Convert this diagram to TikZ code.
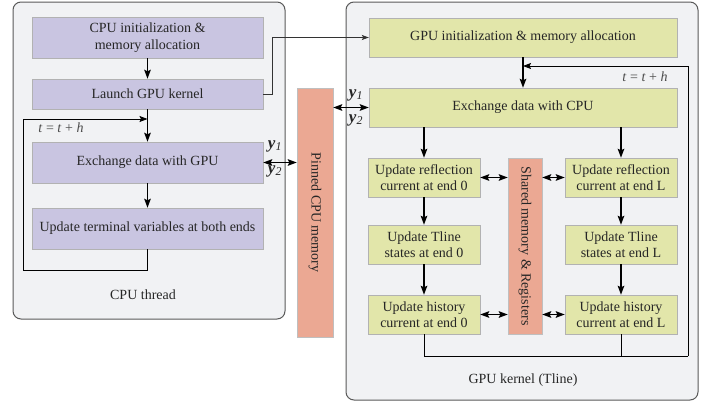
\documentclass[tikz,border=0pt]{standalone}
\usepackage{fontspec}
\setmainfont{Liberation Serif}
\usetikzlibrary{arrows.meta}

\definecolor{panelgray}{HTML}{F1F2F4}
\definecolor{cpupurple}{HTML}{C9C5E1}
\definecolor{gpugreen}{HTML}{E2E6AA}
\definecolor{memsalmon}{HTML}{EBA893}

\begin{document}
\begin{tikzpicture}[
    x=1pt, y=-1pt,
    every node/.style={font=\fontsize{14}{16.5}\selectfont, text=black!85},
    panel/.style={draw=black!65, line width=1pt, fill=panelgray, rounded corners=8pt},
    cpubox/.style={draw=black!30, fill=cpupurple, minimum width=231pt, align=center, inner sep=0pt},
    gpubox/.style={draw=black!30, fill=gpugreen, align=center, inner sep=0pt},
    membox/.style={draw=black!25, fill=memsalmon, inner sep=0pt},
    arr/.style={-{Stealth[length=9pt,width=6.5pt,inset=1.5pt]}, line width=1.8pt},
    dbl/.style={{Stealth[length=9pt,width=6.5pt,inset=1.5pt]}-{Stealth[length=9pt,width=6.5pt,inset=1.5pt]}, line width=1.8pt},
    loopline/.style={line width=0.9pt},
    steplbl/.style={text=black!70},
    ylbl/.style={inner sep=0pt, font=\fontsize{17}{18}\selectfont}
]
\useasboundingbox (0,0) rectangle (713,407);

% panels
\node[panel, minimum width=272pt, minimum height=317pt] (cpupanel) at (149,160.5) {};
\node[panel, minimum width=352pt, minimum height=398pt] (gpupanel) at (522,201) {};
\node (cputitle) at (143,295) {CPU thread};
\node (gputitle) at (523,380) {GPU kernel (Tline)};

% CPU thread
\node[cpubox, minimum height=41pt] (cinit) at (147.5,37.5) {CPU initialization \&\\memory allocation};
\node[cpubox, minimum height=30pt] (launch) at (147.5,94) {Launch GPU kernel};
\node[cpubox, minimum height=41pt] (cex) at (147.5,162.5) {Exchange data with GPU};
\node[cpubox, minimum height=41pt] (cupd) at (147.5,228.5) {Update terminal variables at both ends};

% pinned memory
\node[membox, minimum width=36pt, minimum height=249pt] (pinned) at (315,212.5) {\rotatebox{-90}{Pinned CPU memory}};

% GPU kernel
\node[gpubox, minimum width=308pt, minimum height=39pt] (ginit) at (523,37.5) {GPU initialization \& memory allocation};
\node[gpubox, minimum width=308pt, minimum height=39pt] (gex) at (523,107.5) {Exchange data with CPU};
\node[gpubox, minimum width=112pt, minimum height=39pt] (r0) at (424,177.5) {Update reflection\\current at end 0};
\node[gpubox, minimum width=112pt, minimum height=39pt] (rL) at (621,177.5) {Update reflection\\current at end L};
\node[gpubox, minimum width=112pt, minimum height=39pt] (s0) at (424,244.5) {Update Tline\\states at end 0};
\node[gpubox, minimum width=112pt, minimum height=39pt] (sL) at (621,244.5) {Update Tline\\states at end L};
\node[gpubox, minimum width=112pt, minimum height=39pt] (h0) at (424,314.5) {Update history\\current at end 0};
\node[gpubox, minimum width=112pt, minimum height=39pt] (hL) at (621,314.5) {Update history\\current at end L};
\node[membox, minimum width=34pt, minimum height=176pt] (shared) at (525,246) {\rotatebox{-90}{Shared memory \& Registers}};

% CPU flow
\draw[arr] (cinit) -- (launch);
\draw[arr] (launch) -- (cex);
\draw[arr] (cex) -- (cupd);
\coordinate (cloop) at (23,270);
\coordinate (cjoin) at (147.5,119);
\draw[loopline, -{Stealth[length=8pt,width=6pt,inset=1.5pt]}] (cupd.south) |- (cloop) |- (cjoin);
\node[steplbl] (cstep) at (61,128) {\textit{t} = \textit{t} + \textit{h}};

% launch kernel
\coordinate (kturn) at (272,37.5);
\draw[loopline, black!80, -{Stealth[length=7pt,width=5pt,inset=1.5pt]}] (launch.east) -| (kturn) -- (ginit.west);

% data exchange through pinned memory
\draw[dbl] (cex.east) -- (cex.east -| pinned.west);
\node[ylbl] (cy1) at (275,146) {\textbf{\textit{y}}\textsubscript{\textit{1}}};
\node[ylbl] (cy2) at (275,171) {\textbf{\textit{y}}\textsubscript{\textit{2}}};
\draw[dbl] (gex.west -| pinned.east) -- (gex.west);
\node[ylbl] (gy1) at (356,95) {\textbf{\textit{y}}\textsubscript{\textit{1}}};
\node[ylbl] (gy2) at (356,120) {\textbf{\textit{y}}\textsubscript{\textit{2}}};

% GPU flow
\draw[arr] (ginit) -- (gex);
\draw[arr] (gex.south -| r0.north) -- (r0.north);
\draw[arr] (gex.south -| rL.north) -- (rL.north);
\draw[arr] (r0) -- (s0);
\draw[arr] (s0) -- (h0);
\draw[arr] (rL) -- (sL);
\draw[arr] (sL) -- (hL);
\draw[dbl] (r0.east) -- (r0.east -| shared.west);
\draw[dbl] (rL.west -| shared.east) -- (rL.west);
\draw[dbl] (h0.east) -- (h0.east -| shared.west);
\draw[dbl] (hL.west -| shared.east) -- (hL.west);

% time step loop
\coordinate (gloop) at (688,356);
\coordinate (gjoin) at (523,66);
\draw[loopline] (h0.south) |- (gloop);
\draw[loopline] (hL.south) -- (hL.south |- gloop);
\draw[loopline, -{Stealth[length=8pt,width=6pt,inset=1.5pt]}] (gloop) |- (gjoin);
\node[steplbl] (gstep) at (645,77) {\textit{t} = \textit{t} + \textit{h}};

\end{tikzpicture}
\end{document}
